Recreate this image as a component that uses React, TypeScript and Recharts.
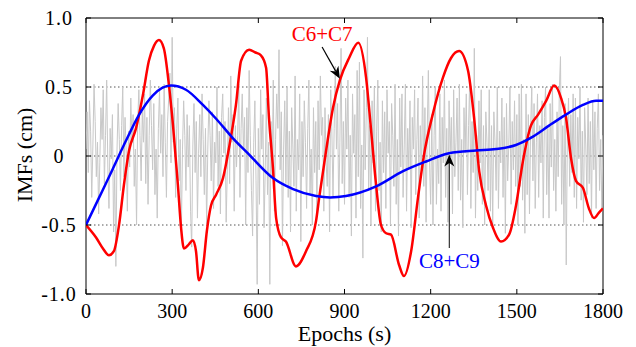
import React from 'react';
import { LineChart, Line, XAxis, YAxis, ReferenceLine, ReferenceArea } from 'recharts';

const xTicks = [0, 300, 600, 900, 1200, 1500, 1800];
const yTicks = [-1, -0.5, 0, 0.5, 1];
const yTickLabels = ['-1.0', '-0.5', '0', '0.5', '1.0'];
const gridValues = [-0.5, 0, 0.5];

// raw signal (gray), sampled every 4 s
const grayStep = 4;
const grayValues = [
  0.05, 0.32, -0.12, 0.40, 0.18, -0.30, 0.08, 0.52, 0.25, -0.15, 0.10, -0.42, -0.05, 0.35, 0.12, 0.48, -0.20, 0.15, 0.55, -0.08, -0.38, 0.20, -0.02, 0.30, -0.55,
  -0.10, -0.80, 0.05, 0.38, 0.12, -0.25, 0.22, 0.50, -0.15, 0.28, 0.02, -0.40, 0.18, -0.08, 0.42, 0.10, 0.30, -0.22, 0.05, -0.50, 0.25, 0.48, 0.15, -0.18, 0.32,
  0.10, 0.45, -0.20, 0.28, -0.35, 0.15, 0.55, 0.22, -0.10, 0.38, -0.28, 0.05, -0.45, 0.20, 0.48, 0.02, 0.30, -0.15, 0.52, 0.10, -0.30, 0.25, 0.42, 0.60, -0.05,
  0.86, 0.10, 0.35, -0.30, 0.20, 0.42, -0.18, 0.12, -0.55, 0.05, 0.40, 0.15, -0.25, 0.30, -0.08, 0.22, -0.40, -0.66, 0.08, 0.38, -0.12, 0.25, -0.45, 0.02, 0.30,
  -0.15, 0.45, 0.12, -0.28, 0.20, -0.50, 0.05, 0.40, 0.15, -0.18, 0.32, -0.38, 0.10, -0.05, 0.50, -0.22, 0.18, -0.42, 0.28, 0.45, 0.02, 0.25, -0.48, -0.10, 0.35,
  -0.20, 0.58, 0.10, 0.30, -0.40, 0.22, -0.08, 0.15, 0.52, -0.30, 0.20, 0.45, 0.05, 0.28, -0.50, 0.35, -0.12, 0.62, 0.15, -0.25, -0.58, 0.10, 0.40, -0.18, -0.93,
  0.20, -0.35, 0.48, 0.05, 0.30, -0.52, -0.10, 0.42, -0.28, 0.10, -0.93, 0.25, -0.15, 0.55, -0.40, 0.12, 0.45, 0.20, 0.77, -0.10, 0.32, -0.65, 0.05, 0.40, -0.20,
  0.50, -0.30, 0.18, -0.55, 0.35, 0.08, -0.22, 0.58, -0.40, 0.12, -0.10, 0.45, -0.62, 0.25, -0.15, 0.40, 0.10, -0.38, 0.20, 0.55, -0.28, 0.05, -0.50, 0.35, -0.12,
  0.25, -0.42, 0.40, -0.10, 0.58, 0.15, 0.28, -0.40, 0.35, -0.05, -0.22, 0.30, -0.55, 0.48, 0.18, -0.30, 0.20, 0.65, 0.05, 0.38, -0.40, 0.10, 0.78, -0.20, 0.25,
  -0.35, 0.42, 0.05, 0.55, -0.30, 0.15, -0.58, 0.45, 0.02, 0.30, -0.45, 0.62, -0.15, 0.68, -0.38, 0.08, -0.74, 0.48, -0.10, 0.35, 0.86, -0.25, 0.22, -0.50, 0.40,
  -0.05, 0.50, -0.40, 0.18, 0.55, -0.25, 0.10, -0.55, 0.40, -0.12, 0.32, -0.38, 0.48, 0.02, 0.25, -0.50, 0.38, 0.15, -0.22, 0.52, -0.35, 0.12, -0.58, 0.42, -0.08,
  0.45, -0.30, 0.08, 0.52, -0.40, 0.20, -0.10, 0.40, -0.52, 0.28, 0.05, 0.48, -0.28, 0.12, 0.42, -0.45, 0.22, -0.15, 0.58, -0.22, 0.35, -0.48, 0.18, 0.62, -0.05,
  -0.35, 0.30, -0.50, 0.15, 0.50, -0.35, 0.05, -0.20, 0.45, -0.40, 0.28, -0.05, 0.55, -0.30, 0.20, -0.48, 0.40, 0.02, 0.28, -0.42, 0.48, -0.15, 0.10, 0.42, -0.25,
  0.52, -0.32, 0.12, -0.52, 0.35, 0.02, 0.45, -0.28, 0.22, 0.55, -0.38, 0.25, -0.12, 0.78, -0.45, 0.15, -0.25, 0.40, -0.05, 0.48, -0.35, 0.22, -0.50, 0.32, 0.10,
  -0.25, 0.48, -0.40, 0.22, -0.50, 0.32, 0.10, -0.25, 0.50, -0.38, 0.18, -0.05, 0.42, -0.30, 0.28, -0.56, 0.38, -0.18, 0.08, 0.50, -0.35, 0.25, -0.10, 0.40, -0.22,
  0.30, -0.50, 0.45, -0.22, 0.52, -0.32, 0.12, -0.56, 0.45, -0.28, 0.30, -0.42, 0.20, 0.50, -0.18, 0.38, -0.38, 0.10, 0.45, -0.30, 0.22, -0.05, 0.40, -0.45, 0.28,
  0.50, -0.28, 0.20, -0.45, 0.38, -0.08, 0.52, -0.25, 0.12, -0.40, 0.32, -0.15, 0.48, 0.72, -0.35, 0.22, -0.50, 0.38, -0.79, 0.15, 0.42, -0.22, 0.30, -0.12, 0.45,
  -0.30, 0.42, -0.38, 0.28, -0.02, 0.50, -0.32, 0.18, -0.48, 0.35, 0.08, -0.28, 0.42, -0.20, 0.25, -0.45, 0.40, -0.10, 0.32, -0.38, 0.20, 0.45, -0.25, 0.12, -0.40,
  0.15,
];

// C6+C7 (red)
const redEpochs = [
  0, 35, 59, 80, 97, 115, 132, 150, 174, 198,
  219, 237, 254, 271, 289, 303, 320, 331, 341, 358,
  372, 383, 393, 407, 421, 435, 453, 477, 498, 522,
  540, 568, 590, 609, 627, 637, 651, 662, 679, 696,
  731, 766, 801, 812, 836, 860, 884, 916, 948, 975,
  992, 1010, 1027, 1045, 1062, 1090, 1107, 1132, 1156, 1177,
  1207, 1243, 1271, 1299, 1330, 1351, 1369, 1393, 1417, 1445,
  1473, 1497, 1521, 1549, 1574, 1602, 1630, 1654, 1671, 1689,
  1706, 1730, 1751, 1769, 1786, 1800,
];
const redValues = [
  -0.50, -0.59, -0.67, -0.72, -0.69, -0.50, -0.21, 0.04, 0.20, 0.44,
  0.69, 0.80, 0.84, 0.78, 0.51, 0.22, -0.21, -0.52, -0.67, -0.64,
  -0.61, -0.69, -0.90, -0.81, -0.54, -0.36, -0.28, -0.16, 0.06, 0.37,
  0.69, 0.77, 0.75, 0.73, 0.64, 0.28, -0.09, -0.45, -0.59, -0.62,
  -0.80, -0.69, -0.47, -0.30, 0.04, 0.35, 0.55, 0.71, 0.82, 0.57,
  0.20, -0.21, -0.50, -0.56, -0.57, -0.79, -0.87, -0.69, -0.30, 0.01,
  0.30, 0.57, 0.71, 0.76, 0.62, 0.28, -0.11, -0.36, -0.52, -0.62,
  -0.57, -0.36, -0.04, 0.22, 0.30, 0.40, 0.51, 0.42, 0.28, -0.02,
  -0.18, -0.23, -0.38, -0.45, -0.41, -0.38,
];

// C8+C9 (blue)
const blueEpochs = [0, 46, 94, 139, 185, 233, 296, 348, 407, 453, 511, 568, 651, 721, 801, 850, 905, 1010, 1104, 1184, 1264, 1358, 1428, 1497, 1556, 1612, 1671, 1730, 1776, 1800];
const blueValues = [-0.50, -0.30, -0.09, 0.11, 0.30, 0.44, 0.51, 0.48, 0.37, 0.27, 0.13, 0.01, -0.16, -0.24, -0.29, -0.30, -0.29, -0.22, -0.11, -0.04, 0.02, 0.04, 0.05, 0.08, 0.14, 0.22, 0.30, 0.37, 0.40, 0.40];

const annotations = [
  { text: 'C6+C7', color: '#ff0000', tail: { t: 822, v: 0.79 }, tip: { t: 884, v: 0.56 }, dy: -13, lineColor: '#000' },
  { text: 'C8+C9', color: '#0000ff', tail: { t: 1265, v: -0.667 }, tip: { t: 1265, v: 0.01 }, dy: 13, lineColor: '#333' },
];

const grayData = grayValues.map((v, i) => ({ t: i * grayStep, v }));
const redData = redEpochs.map((t, i) => ({ t, v: redValues[i] }));
const blueData = blueEpochs.map((t, i) => ({ t, v: blueValues[i] }));

const W = 636;
const H = 347;
const PLOT_LEFT = 86;
const PLOT_RIGHT = 603;
const PLOT_TOP = 18;
const PLOT_BOTTOM = 294;
const FONT = "'Liberation Serif', 'Times New Roman', serif";

const XTick = (props: any) => {
  const { x, payload } = props;
  return (
    <g>
      <line x1={x} x2={x} y1={PLOT_BOTTOM} y2={PLOT_BOTTOM - 5} stroke="#000" />
      <line x1={x} x2={x} y1={PLOT_TOP} y2={PLOT_TOP + 5} stroke="#000" />
      <text x={x} y={311} textAnchor="middle" dominantBaseline="central" fontSize={20} fontFamily={FONT} fill="#000">
        {payload.value}
      </text>
    </g>
  );
};

const YTick = (props: any) => {
  const { y, payload } = props;
  const idx = yTicks.indexOf(payload.value);
  return (
    <g>
      <line x1={PLOT_LEFT} x2={PLOT_LEFT + 5} y1={y} y2={y} stroke="#000" />
      <line x1={PLOT_RIGHT} x2={PLOT_RIGHT - 5} y1={y} y2={y} stroke="#000" />
      <text x={59} y={y} textAnchor="middle" dominantBaseline="central" fontSize={20} letterSpacing={1} fontFamily={FONT} fill="#000">
        {idx >= 0 ? yTickLabels[idx] : payload.value}
      </text>
    </g>
  );
};

const makeArrow = (a: any) => (props: any) => {
  const { x1, y1, x2, y2 } = props;
  const dx = x2 - x1;
  const dy = y2 - y1;
  const len = Math.sqrt(dx * dx + dy * dy) || 1;
  const ux = dx / len;
  const uy = dy / len;
  const px = -uy;
  const py = ux;
  const hl = 12;
  const hw = 5;
  const bx = x2 - ux * hl;
  const by = y2 - uy * hl;
  const nx = x2 - ux * hl * 0.7;
  const ny = y2 - uy * hl * 0.7;
  const pts = `${x2},${y2} ${bx + px * hw},${by + py * hw} ${nx},${ny} ${bx - px * hw},${by - py * hw}`;
  return (
    <g>
      <line x1={x1} y1={y1} x2={nx} y2={ny} stroke={a.lineColor} strokeWidth={1.2} />
      <polygon points={pts} fill="#000" />
      <text x={x1} y={y1 + a.dy} textAnchor="middle" dominantBaseline="central" fontSize={21} fontFamily={FONT} fill={a.color}>
        {a.text}
      </text>
    </g>
  );
};

export default function App() {
  return (
    <div style={{ position: 'absolute', left: 0, top: 0, width: W, height: H, background: '#fff' }}>
      <LineChart width={W} height={H} margin={{ top: PLOT_TOP, right: W - PLOT_RIGHT, bottom: 0, left: 0 }}>
        <XAxis
          type="number"
          dataKey="t"
          domain={[0, 1800]}
          ticks={xTicks}
          allowDataOverflow
          height={H - PLOT_BOTTOM}
          axisLine={false}
          tickLine={false}
          tick={<XTick />}
          interval={0}
          label={{
            content: () => (
              <text x={(PLOT_LEFT + PLOT_RIGHT) / 2} y={333} textAnchor="middle" dominantBaseline="central" fontSize={22} fontFamily={FONT} fill="#000">
                Epochs (s)
              </text>
            ),
          }}
        />
        <YAxis
          type="number"
          domain={[-1, 1]}
          ticks={yTicks}
          allowDataOverflow
          width={PLOT_LEFT}
          axisLine={false}
          tickLine={false}
          tick={<YTick />}
          interval={0}
          label={{
            content: () => (
              <text x={24} y={155} transform="rotate(-90 24 155)" textAnchor="middle" dominantBaseline="central" fontSize={22} fontFamily={FONT} fill="#000">
                IMFs (cm)
              </text>
            ),
          }}
        />
        {gridValues.map((g) => (
          <ReferenceLine key={g} y={g} stroke="#555" strokeDasharray="1.5 2.5" strokeWidth={1} />
        ))}
        <Line data={grayData} dataKey="v" type="linear" stroke="#c8c8c8" strokeWidth={1} dot={false} isAnimationActive={false} />
        <Line data={redData} dataKey="v" type="monotone" stroke="#ff0000" strokeWidth={2.5} dot={false} isAnimationActive={false} />
        <Line data={blueData} dataKey="v" type="monotone" stroke="#0000ff" strokeWidth={2.5} dot={false} isAnimationActive={false} />
        <ReferenceArea x1={0} x2={1800} y1={-1} y2={1} fill="none" fillOpacity={0} stroke="#000" strokeWidth={1} />
        {annotations.map((a) => (
          <ReferenceLine
            key={a.text}
            segment={[{ x: a.tail.t, y: a.tail.v }, { x: a.tip.t, y: a.tip.v }]}
            shape={makeArrow(a)}
          />
        ))}
      </LineChart>
    </div>
  );
}
